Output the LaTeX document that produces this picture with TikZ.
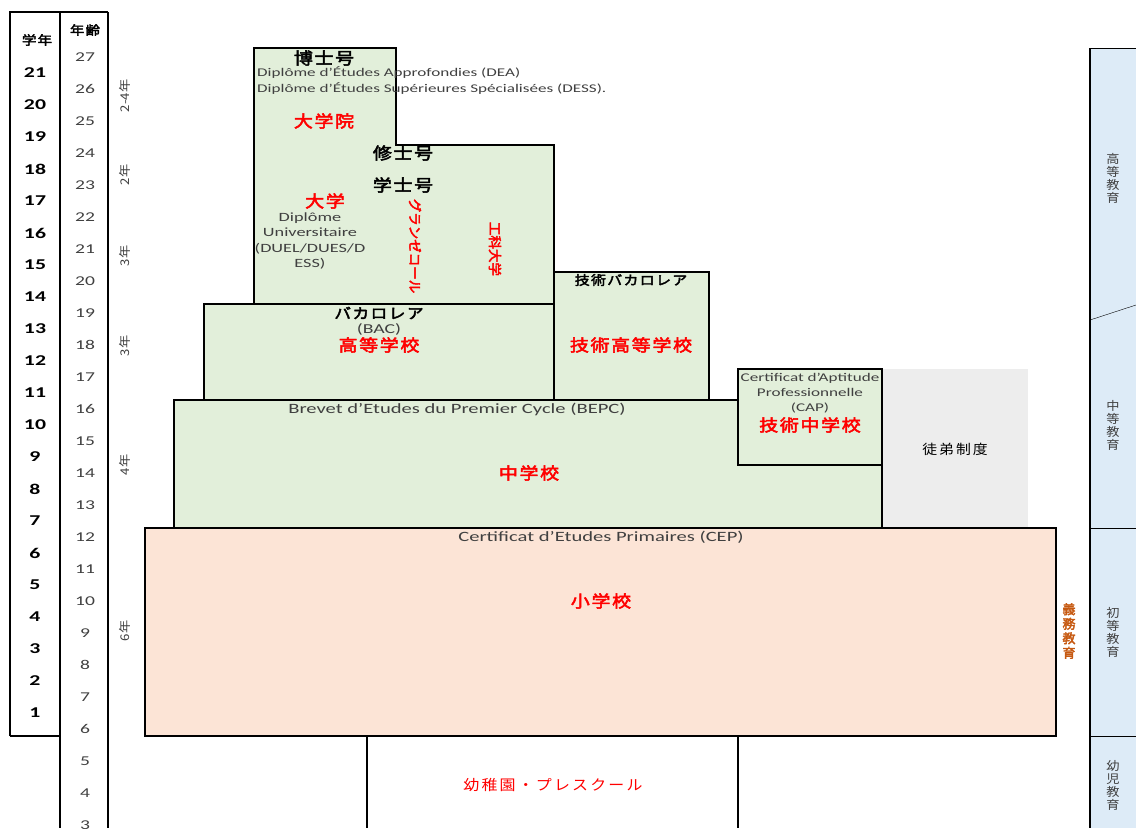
\documentclass[tikz,border=0pt]{standalone}
\usepackage{fontspec}
\setmainfont{Carlito}[FakeStretch=1.45]
\newfontfamily\jpfont{Noto Sans CJK JP}[FakeStretch=1.1]
\newfontfamily\jpwide{Noto Sans CJK JP}[FakeStretch=1.15, LetterSpace=10, AutoFakeBold=3]
\newfontfamily\jpmid{Noto Sans CJK JP}[FakeStretch=1.1, LetterSpace=15]
\newfontfamily\jptall{Noto Sans CJK JP}[AutoFakeBold=3]
\usetikzlibrary{calc}
\definecolor{schoolgreen}{HTML}{E2EFDA}
\definecolor{schoolpeach}{HTML}{FCE4D6}
\definecolor{stageblue}{HTML}{DDEBF7}
\definecolor{apprgray}{HTML}{EDEDED}
\definecolor{txtgray}{HTML}{404040}
\definecolor{dutyorange}{HTML}{C65911}
\tikzset{
  wall/.style={line width=1.6pt},
  latin/.style={inner sep=0pt, text=txtgray, font=\fontsize{14.2}{15.6}\selectfont},
  latinsm/.style={inner sep=0pt, text=txtgray, font=\fontsize{11.8}{15}\selectfont},
  degree/.style={inner sep=0pt, font=\jpwide\bfseries\fontsize{16.5}{18}\selectfont},
  school/.style={degree, text=red},
  upright/.style={inner sep=0pt, rotate=-90, text=red, font=\jptall\bfseries\fontsize{13.5}{15}\selectfont},
  grade/.style={inner sep=0pt, font=\bfseries\fontsize{15}{16}\selectfont},
  age/.style={inner sep=0pt, text=txtgray, font=\fontsize{13.5}{16}\selectfont},
  span/.style={inner sep=0pt, rotate=90, text=txtgray, font=\jpfont\fontsize{12}{13}\selectfont},
  stage/.style={inner sep=0pt, align=center, text=txtgray, font=\jpfont\fontsize{12}{13}\selectfont},
}

\begin{document}
\begin{tikzpicture}[x=1pt, y=-1pt]
  \useasboundingbox (0,0) rectangle (1136,828);

  % Fills
  \fill[apprgray] (882,369) rectangle (1028,528);
  \fill[stageblue] (1090,48) rectangle (1136,828);

  % Universities
  \draw[wall, fill=schoolgreen] (254,48) -- (396,48) -- (396,145) -- (554,145) -- (554,304) -- (254,304) -- cycle;
  \draw[wall, fill=schoolgreen] (554,272) rectangle (709,400);
  \draw[wall, fill=schoolgreen] (204,304) rectangle (554,400);

  % Collège and CAP
  \draw[wall, fill=schoolgreen] (174,400) rectangle (882,528);
  \draw[wall, fill=schoolgreen] (738,369) rectangle (882,465);

  % Primary school
  \draw[wall, fill=schoolpeach] (145,528) rectangle (1056,736);

  % Kindergarten
  \draw[wall] (367,736) -- (367,828);
  \draw[wall] (738,736) -- (738,828);

  % Grade and age columns
  \draw[wall] (10,736) -- (10,12) -- (108,12);
  \draw[wall] (10,736) -- (60,736);
  \draw[wall] (60,12) -- (60,828);
  \draw[wall] (108,12) -- (108,828);

  \node[inner sep=0pt, font=\jpwide\bfseries\fontsize{12.5}{13}\selectfont] (gradehead) at (37,40) {学年};
  \node[inner sep=0pt, font=\jpwide\bfseries\fontsize{12.5}{13}\selectfont] (agehead) at (85,30) {年齢};
  \foreach \g in {1,...,21}
    \node[grade] (g\g) at (35,{73+(21-\g)*32}) {\g};
  \foreach \a in {3,...,27}
    \node[age] (a\a) at (85,{57+(27-\a)*32}) {\a};

  \node[span] (y24) at (125,96) {2-4年};
  \node[span] (y2) at (125,175) {2年};
  \node[span] (y3a) at (125,256) {3年};
  \node[span] (y3b) at (125,346) {3年};
  \node[span] (y4) at (125,465) {4年};
  \node[span] (y6) at (125,631) {6年};

  % Stage column
  \draw[wall] (1090,48) -- (1090,828);
  \draw (1090,48) -- (1136,48);
  \draw (1090,320) -- (1136,305);
  \draw (1090,528) -- (1136,528);
  \draw (1090,736) -- (1136,736);
  \node[stage] (higher) at (1113,178) {高\\等\\教\\育};
  \node[stage] (secondary) at (1113,425) {中\\等\\教\\育};
  \node[stage] (primary) at (1113,632) {初\\等\\教\\育};
  \node[stage] (infant) at (1113,785) {幼\\児\\教\\育};
  \node[inner sep=0pt, align=center, text=dutyorange, font=\jptall\bfseries\fontsize{13}{14.5}\selectfont] (duty) at (1069,631) {義\\務\\教\\育};

  % Labels
  \node[degree] (doctor) at (324,58) {博士号};
  \node[latinsm, anchor=west] (dea) at (257,73) {Diplôme d'Études Approfondies (DEA)};
  \node[latinsm, anchor=west] (dess) at (257,89) {Diplôme d'Études Supérieures Spécialisées (DESS).};
  \node[school] (gradschool) at (324,121) {大学院};
  \node[degree] (master) at (403,153) {修士号};
  \node[degree] (bachelor) at (403,185) {学士号};
  \node[school] (univ) at (325,201) {大学};
  \node[latin, align=center, font=\fontsize{12.6}{15.6}\selectfont] (dipu) at (310,241) {Diplôme\\Universitaire\\(DUEL/DUES/D\\ESS)};
  \node[upright] (grandes) at (415,246) {グランゼコール};
  \node[upright] (tech) at (495,249) {工科大学};
  \node[degree, font=\jpwide\bfseries\fontsize{13}{14}\selectfont] (techbac) at (631,280) {技術バカロレア};
  \node[degree, font=\jpwide\bfseries\fontsize{14.5}{16}\selectfont] (bac) at (379,313) {バカロレア};
  \node[latin, font=\fontsize{13.6}{15}\selectfont] (baclat) at (379,329) {(BAC)};
  \node[school] (lycee) at (379,345) {高等学校};
  \node[school] (techlycee) at (631,345) {技術高等学校};
  \node[latin] (bepc) at (457,409) {Brevet d’Etudes du Premier Cycle (BEPC)};
  \node[school] (college) at (529,473) {中学校};
  \node[latinsm, align=center] (cap) at (810,393) {Certificat d’Aptitude\\Professionnelle\\(CAP)};
  \node[school] (techcollege) at (810,425) {技術中学校};
  \node[inner sep=0pt, font=\jpmid\fontsize{13.5}{15}\selectfont] (appr) at (955,449) {徒弟制度};
  \node[latin] (cep) at (601,537) {Certificat d’Etudes Primaires (CEP)};
  \node[school] (ecole) at (601,601) {小学校};
  \node[inner sep=0pt, text=red, font=\jpmid\fontsize{14.5}{16}\selectfont] (maternelle) at (553,785) {幼稚園・プレスクール};
\end{tikzpicture}
\end{document}
